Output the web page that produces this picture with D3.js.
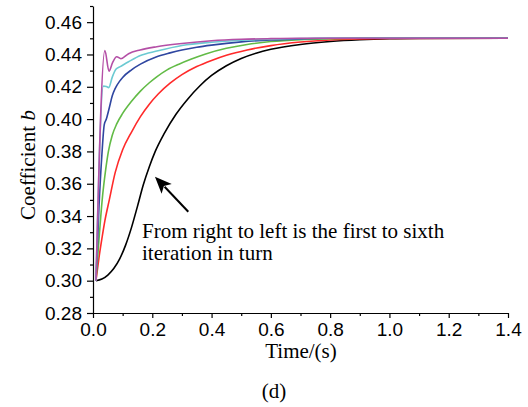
<!DOCTYPE html>
<html>
<head>
<meta charset="utf-8">
<script src="https://cdn.jsdelivr.net/npm/d3@7"></script>
<style>
  html, body { margin: 0; padding: 0; background: #fff; }
  svg { display: block; }
</style>
</head>
<body>
<svg id="chart" width="528" height="407"></svg>
<script>
// ---- data (time in s, coefficient b) ----
const seriesNames = ["1st", "2nd", "3rd", "4th", "5th", "6th"];
const seriesColors = ["#000000", "#ff2a2a", "#62bb46", "#2f46a0", "#6ccad2", "#b44fa6"];

const t1 = [0.01,0.03,0.05,0.07,0.09,0.11,0.13,0.15,0.17,0.19,0.21,0.24,0.28,0.32,0.36,0.40,0.45,0.50,0.55,0.60,0.70,0.80,0.90,1.00,1.10,1.40];
const b1 = [0.300,0.301,0.3035,0.3075,0.3135,0.322,0.333,0.346,0.3595,0.3705,0.380,0.391,0.403,0.4125,0.4205,0.427,0.433,0.4375,0.4408,0.4432,0.4462,0.448,0.4491,0.4497,0.4499,0.4500];

const t2 = [0.01,0.02,0.03,0.04,0.055,0.075,0.10,0.13,0.16,0.19,0.22,0.26,0.30,0.35,0.40,0.45,0.52,0.60,0.70,0.80,0.90,1.00,1.40];
const b2 = [0.300,0.314,0.326,0.337,0.350,0.367,0.381,0.392,0.4015,0.4092,0.4155,0.4222,0.4275,0.4325,0.4363,0.4395,0.4428,0.4455,0.4477,0.4490,0.4496,0.4499,0.4500];

const t3 = [0.01,0.02,0.031,0.043,0.052,0.065,0.08,0.10,0.13,0.16,0.19,0.215,0.25,0.29,0.33,0.38,0.45,0.52,0.60,0.70,0.80,0.90,1.40];
const b3 = [0.300,0.325,0.350,0.369,0.380,0.390,0.397,0.4035,0.411,0.4173,0.4225,0.4262,0.4305,0.434,0.437,0.4403,0.4438,0.4462,0.448,0.4492,0.4497,0.4500,0.4500];

const t4 = [0.01,0.02,0.03,0.038,0.045,0.055,0.065,0.075,0.09,0.10,0.13,0.16,0.215,0.26,0.30,0.35,0.40,0.50,0.60,0.70,0.80,1.40];
const b4 = [0.300,0.345,0.378,0.3966,0.400,0.407,0.4145,0.419,0.4235,0.4258,0.4305,0.434,0.4386,0.441,0.4428,0.4445,0.4458,0.4478,0.449,0.4496,0.4500,0.4500];

const t5 = [0.01,0.035,0.045,0.053,0.065,0.078,0.092,0.12,0.16,0.215,0.30,0.40,0.50,0.60,0.70,0.80,1.40];
const b5 = [0.300,0.4204,0.4202,0.4195,0.426,0.431,0.4325,0.4355,0.4394,0.4421,0.4456,0.4476,0.4488,0.4495,0.4499,0.4500,0.4500];

const t6 = [0.01,0.04,0.054,0.066,0.08,0.094,0.12,0.159,0.215,0.30,0.40,0.50,0.60,0.70,1.40];
const b6 = [0.300,0.4425,0.4297,0.435,0.4386,0.4374,0.4405,0.4428,0.4448,0.4468,0.4485,0.4494,0.4498,0.4500,0.4500];

const xMajorTicks = [0.0,0.2,0.4,0.6,0.8,1.0,1.2,1.4];
const xMinorTicks = [0.1,0.3,0.5,0.7,0.9,1.1,1.3];
const yMajorTicks = [0.28,0.30,0.32,0.34,0.36,0.38,0.40,0.42,0.44,0.46];
const yMinorTicks = [0.29,0.31,0.33,0.35,0.37,0.39,0.41,0.43,0.45,0.47];

const xLabel = "Time/(s)";
const yLabelMain = "Coefficient ";
const yLabelVar = "b";
const noteLines = ["From right to left is the first to sixth", "iteration in turn"];
const caption = "(d)";

// ---- drawing ----
const svg = d3.select("#chart");
const x = d3.scaleLinear().domain([0, 1.4]).range([93, 508]);
const y = d3.scaleLinear().domain([0.28, 0.47]).range([313, 6]);

const serif = '"Liberation Serif", "Times New Roman", serif';
const sans = '"Liberation Sans", Arial, sans-serif';

// lines
const allT = [t1, t2, t3, t4, t5, t6];
const allB = [b1, b2, b3, b4, b5, b6];
const line = d3.line().x(d => x(d[0])).y(d => y(d[1])).curve(d3.curveMonotoneX);
const g = svg.append("g");
allT.forEach((ts, i) => {
  const pts = ts.map((t, j) => [t, allB[i][j]]);
  g.append("path").datum(pts)
    .attr("d", line)
    .attr("fill", "none")
    .attr("stroke", seriesColors[i])
    .attr("stroke-width", 1.6)
    .attr("stroke-linejoin", "round");
});

// axes
const xAxis = d3.axisBottom(x).tickValues(xMajorTicks).tickSize(5).tickSizeOuter(0)
  .tickFormat(d3.format(".1f")).tickPadding(5);
const xAxisMinor = d3.axisBottom(x).tickValues(xMinorTicks).tickSize(3).tickFormat("");
const yAxis = d3.axisLeft(y).tickValues(yMajorTicks).tickSize(6).tickSizeOuter(0)
  .tickFormat(d3.format(".2f")).tickPadding(5);
const yAxisMinor = d3.axisLeft(y).tickValues(yMinorTicks).tickSize(3).tickFormat("");

function style(sel) {
  sel.selectAll("path, line").attr("stroke", "#000").attr("stroke-width", 1.2);
  sel.selectAll("text").attr("fill", "#000").style("font-family", sans).style("font-size", "19px");
}
const gx = svg.append("g").attr("transform", "translate(0,313)").call(xAxis).call(style);
const gxm = svg.append("g").attr("transform", "translate(0,313)").call(xAxisMinor).call(style);
gxm.select(".domain").remove();
const gy = svg.append("g").attr("transform", "translate(93,0)").call(yAxis).call(style);
const gym = svg.append("g").attr("transform", "translate(93,0)").call(yAxisMinor).call(style);
gym.select(".domain").remove();

// axis titles
svg.append("text")
  .attr("x", 301).attr("y", 358)
  .attr("text-anchor", "middle")
  .style("font-family", serif).style("font-size", "21px")
  .text(xLabel);

const yt = svg.append("text")
  .attr("transform", "translate(35,165) rotate(-90)")
  .attr("text-anchor", "middle")
  .style("font-family", serif).style("font-size", "21px");
yt.append("tspan").text(yLabelMain);
yt.append("tspan").style("font-style", "italic").text(yLabelVar);

// caption
svg.append("text")
  .attr("x", 274).attr("y", 398)
  .attr("text-anchor", "middle")
  .style("font-family", serif).style("font-size", "21px")
  .text(caption);

// annotation text
noteLines.forEach((s, i) => {
  svg.append("text")
    .attr("x", 142).attr("y", 238 + i * 22)
    .style("font-family", serif).style("font-size", "21px")
    .attr("fill", "#000")
    .text(s);
});

// arrow (tail -> tip) in data coordinates
const tail = [0.3215, 0.3427], tip = [0.209, 0.3644];
const x0 = x(tail[0]), y0 = y(tail[1]), x1 = x(tip[0]), y1 = y(tip[1]);
const ang = Math.atan2(y1 - y0, x1 - x0);
const headLen = 17, headW = 7;
const bx = x1 - headLen * Math.cos(ang), by = y1 - headLen * Math.sin(ang);
svg.append("line")
  .attr("x1", x0).attr("y1", y0).attr("x2", bx + 3 * Math.cos(ang)).attr("y2", by + 3 * Math.sin(ang))
  .attr("stroke", "#000").attr("stroke-width", 2);
const nx = -Math.sin(ang), ny = Math.cos(ang);
const notch = 4;
svg.append("path")
  .attr("d", `M${x1},${y1} L${bx + nx * headW},${by + ny * headW} L${bx + notch * Math.cos(ang)},${by + notch * Math.sin(ang)} L${bx - nx * headW},${by - ny * headW} Z`)
  .attr("fill", "#000");
</script>
</body>
</html>
